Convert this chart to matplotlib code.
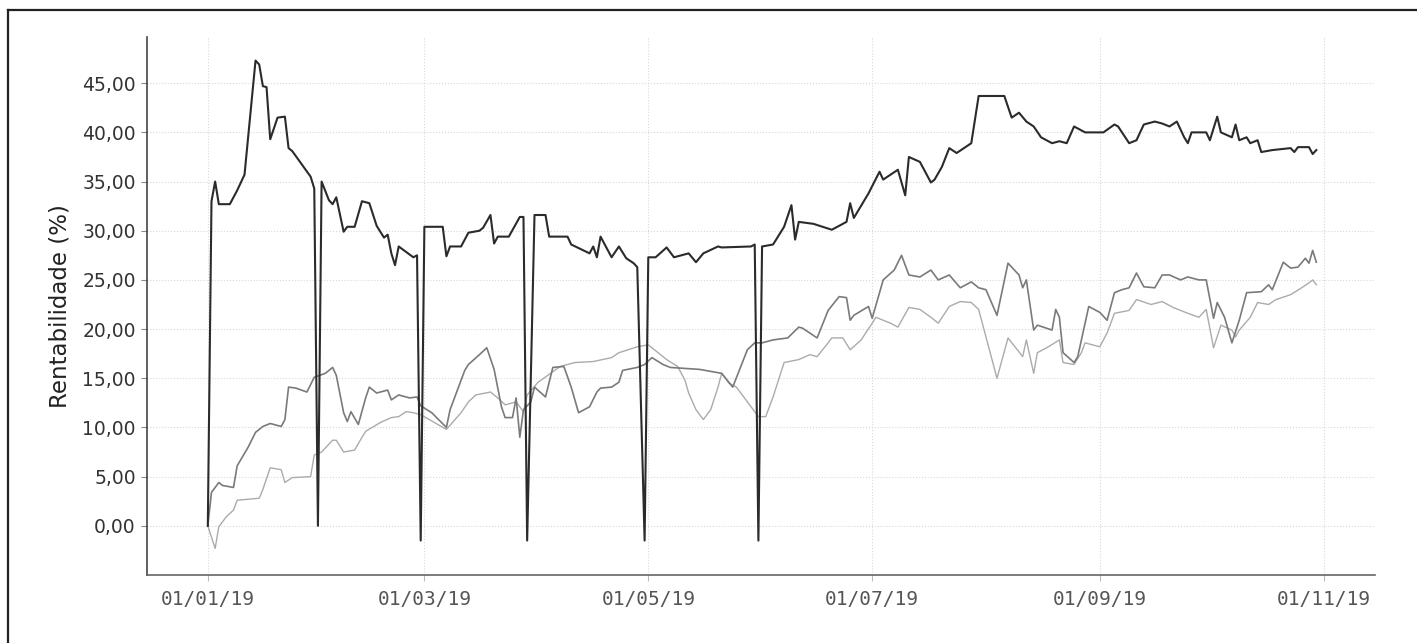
import matplotlib
matplotlib.use('Agg')
import matplotlib.pyplot as plt
import matplotlib.dates as mdates
from matplotlib.lines import Line2D
from matplotlib.ticker import FuncFormatter
import pandas as pd

# ---- data (days since 01/01/2019, rentabilidade %) ----
start = pd.Timestamp('2019-01-01')

a_days = [0, 1, 2, 3, 6, 8, 10, 13, 14, 15, 16, 17, 19, 21, 22, 23, 28, 29, 30, 31,
          33, 34, 35, 37, 38, 40, 42, 44, 46, 48, 49, 50, 51, 52, 56, 57, 58, 59,
          64, 65, 66, 69, 71, 74, 75, 77, 78, 79, 82, 85, 86, 87, 89,
          92, 93, 98, 99, 104, 105, 106, 107, 110, 112, 114, 116, 117, 119, 120,
          122, 125, 127, 131, 133, 135, 139, 140, 148, 149, 150, 151,
          154, 157, 159, 160, 161, 165, 170, 174, 175, 176, 180, 183, 184, 188, 190,
          191, 194, 197, 198, 200, 202, 204, 208, 210, 217, 219, 221, 223, 225, 227,
          230, 232, 234, 236, 239, 244, 247, 248, 251, 253, 255, 258, 260, 262, 264,
          266, 267, 268, 272, 273, 275, 276, 279, 280, 281, 283, 284, 286, 287, 290,
          295, 296, 297, 300, 301, 302]
a_vals = [0.0, 33.0, 35.0, 32.7, 32.7, 34.1, 35.7, 47.3, 46.9, 44.7, 44.6, 39.3, 41.5, 41.6, 38.4, 38.1, 35.5, 34.3, 0.0, 35.0,
          33.1, 32.7, 33.4, 29.9, 30.4, 30.4, 33.0, 32.8, 30.5, 29.3, 29.6, 27.7, 26.5, 28.4, 27.3, 27.5, -1.5, 30.4,
          30.4, 27.4, 28.4, 28.4, 29.8, 30.0, 30.3, 31.6, 28.7, 29.4, 29.4, 31.4, 31.4, -1.5, 31.6,
          31.6, 29.4, 29.4, 28.6, 27.7, 28.4, 27.3, 29.4, 27.3, 28.4, 27.2, 26.7, 26.3, -1.5, 27.3,
          27.3, 28.3, 27.3, 27.7, 26.8, 27.7, 28.4, 28.3, 28.4, 28.6, -1.5, 28.4,
          28.6, 30.4, 32.6, 29.1, 30.9, 30.7, 30.1, 30.9, 32.8, 31.3, 33.8, 36.0, 35.2, 36.2, 33.6,
          37.5, 37.0, 34.9, 35.2, 36.5, 38.4, 37.9, 38.9, 43.7, 43.7, 41.5, 42.0, 41.1, 40.6, 39.5,
          38.9, 39.1, 38.9, 40.6, 40.0, 40.0, 40.8, 40.6, 38.9, 39.2, 40.8, 41.1, 40.9, 40.6, 41.1,
          39.5, 38.9, 40.0, 40.0, 39.2, 41.6, 40.0, 39.5, 40.8, 39.2, 39.5, 38.9, 39.2, 38.0, 38.2,
          38.4, 38.0, 38.5, 38.5, 37.8, 38.2]

b_days = [0, 1, 3, 4, 7, 8, 11, 13, 15, 17, 20, 21, 22, 24, 27, 29, 32, 34, 35, 37,
          38, 39, 41, 43, 44, 46, 49, 50, 52, 55, 57, 58, 61, 65, 66, 70, 71, 74, 76, 78,
          80, 81, 83, 84, 85, 86, 88, 89, 92, 94, 97, 99, 101, 104, 106, 107, 110, 112, 113,
          117, 119, 121, 124, 126, 134, 140, 143, 147, 149, 151, 154, 158, 161, 162, 166,
          169, 172, 174, 175, 176, 180, 181, 184, 187, 189, 191, 194, 197, 199, 202, 205,
          208, 210, 212, 215, 218, 221, 222, 223, 225, 226, 230, 231, 232, 233, 236, 237,
          240, 243, 245, 247, 249, 251, 253, 255, 258, 260, 262, 265, 267, 270, 272, 274,
          275, 277, 279, 281, 283, 287, 289, 290, 293, 295, 297, 299, 300, 301, 302]
b_vals = [0.0, 3.4, 4.4, 4.1, 3.9, 6.1, 8.0, 9.5, 10.1, 10.4, 10.1, 10.8, 14.1, 14.0, 13.6, 15.1, 15.5, 16.1, 15.3, 11.5,
          10.6, 11.6, 10.3, 13.0, 14.1, 13.5, 13.8, 12.8, 13.3, 13.0, 13.1, 12.2, 11.5, 10.0, 11.8, 15.8, 16.4, 17.4, 18.1, 15.9,
          12.1, 11.0, 11.0, 13.0, 9.0, 11.8, 12.6, 14.1, 13.1, 16.1, 16.2, 14.1, 11.5, 12.1, 13.6, 14.0, 14.1, 14.6, 15.8,
          16.1, 16.4, 17.1, 16.4, 16.1, 15.9, 15.5, 14.1, 17.9, 18.6, 18.6, 18.9, 19.1, 20.2, 20.1, 19.1,
          21.9, 23.3, 23.2, 20.9, 21.4, 22.3, 21.1, 25.0, 26.0, 27.5, 25.5, 25.3, 26.0, 25.0, 25.5, 24.2,
          24.8, 24.2, 24.0, 21.4, 26.7, 25.5, 24.2, 25.0, 19.9, 20.4, 19.9, 22.0, 21.2, 17.6, 16.6, 17.2,
          22.3, 21.7, 20.9, 23.7, 24.0, 24.2, 25.7, 24.3, 24.2, 25.5, 25.5, 25.0, 25.3, 25.0, 25.0, 21.1,
          22.7, 21.2, 18.6, 20.9, 23.7, 23.8, 24.5, 24.0, 26.8, 26.2, 26.3, 27.2, 26.7, 28.0, 26.8]

c_days = [0, 2, 3, 5, 7, 8, 14, 15, 17, 20, 21, 23, 28, 29, 31, 34, 35, 37, 40, 42,
          43, 47, 50, 52, 54, 56, 58, 65, 69, 71, 73, 77, 79, 81, 84, 86, 87, 90, 96, 100,
          105, 110, 112, 117, 120, 121, 125, 128, 130, 131, 133, 135, 137, 139, 140, 142, 144,
          148, 150, 152, 154, 157, 161, 164, 166, 169, 170, 173, 175, 178, 181, 182, 186, 188,
          191, 194, 197, 199, 202, 205, 208, 210, 212, 215, 218, 222, 223, 225, 226, 229, 232,
          233, 236, 238, 239, 243, 245, 247, 251, 253, 257, 260, 263, 267, 270, 272, 274, 276,
          279, 280, 281, 284, 286, 289, 291, 295, 298, 300, 301, 302]
c_vals = [0.0, -2.3, -0.1, 0.9, 1.6, 2.6, 2.8, 3.7, 5.9, 5.7, 4.4, 4.9, 5.0, 7.2, 7.5, 8.7, 8.7, 7.5, 7.7, 9.0,
          9.6, 10.5, 11.0, 11.1, 11.6, 11.5, 11.3, 9.8, 11.5, 12.6, 13.3, 13.6, 13.0, 12.3, 12.6, 11.6, 13.3, 14.6, 16.2, 16.6,
          16.7, 17.1, 17.6, 18.2, 18.4, 18.1, 16.9, 16.2, 14.8, 13.5, 11.8, 10.8, 11.8, 14.1, 15.5, 14.5, 14.1,
          12.1, 11.1, 11.1, 13.1, 16.6, 16.9, 17.4, 17.2, 18.6, 19.1, 19.1, 17.9, 18.9, 20.6, 21.2, 20.6, 20.2,
          22.2, 22.0, 21.2, 20.6, 22.3, 22.8, 22.7, 22.0, 19.2, 15.0, 19.1, 17.2, 18.9, 15.5, 17.6, 18.2, 18.9,
          16.6, 16.4, 17.6, 18.6, 18.2, 19.6, 21.6, 21.9, 23.0, 22.5, 22.8, 22.2, 21.6, 21.2, 22.0, 18.1, 20.4,
          19.9, 19.2, 19.9, 21.2, 22.7, 22.5, 23.0, 23.5, 24.2, 24.7, 25.0, 24.5]

x_ticks = ['2019-01-01', '2019-03-01', '2019-05-01', '2019-07-01', '2019-09-01', '2019-11-01']
y_ticks = [0, 5, 10, 15, 20, 25, 30, 35, 40, 45]


def to_dates(days):
    return start + pd.to_timedelta(days, unit='D')


fig = plt.figure(figsize=(14.17, 6.43), dpi=100)
ax = fig.add_axes([0.1037, 0.1058, 0.8667, 0.8367])

ax.plot(to_dates(c_days), c_vals, color='#ababab', linewidth=1.0, zorder=2)
ax.plot(to_dates(b_days), b_vals, color='#7a7a7a', linewidth=1.2, zorder=3)
ax.plot(to_dates(a_days), a_vals, color='#2b2b2b', linewidth=1.5, zorder=4)

ax.set_xlim(pd.Timestamp('2018-12-15 10:00'), pd.Timestamp('2019-11-15'))
ax.set_ylim(-5, 49.7)

ax.set_xticks(pd.to_datetime(x_ticks))
ax.xaxis.set_major_formatter(mdates.DateFormatter('%d/%m/%y'))
ax.set_yticks(y_ticks)
ax.yaxis.set_major_formatter(FuncFormatter(lambda v, p: f'{v:.2f}'.replace('.', ',')))

ax.grid(True, linestyle=':', color='#d8d8d8', linewidth=0.8)
ax.set_axisbelow(True)

for side in ['top', 'right']:
    ax.spines[side].set_visible(False)
ax.spines['left'].set_color('#444444')
ax.spines['left'].set_linewidth(1.2)
ax.spines['bottom'].set_color('#666666')
ax.spines['bottom'].set_linewidth(1.2)

ax.tick_params(axis='y', length=4, color='#888888', pad=4, labelsize=13.5, labelcolor='#333333')
ax.tick_params(axis='x', length=4, color='#bbbbbb', pad=7, labelsize=14, labelcolor='#555555')
for lab in ax.get_xticklabels():
    lab.set_family('DejaVu Sans Mono')

ax.set_ylabel('Rentabilidade (%)', fontsize=16.5, color='#222222', labelpad=8)

# outer frame of the scanned chart
fig.add_artist(Line2D([8 / 1417, 1.0], [1 - 10 / 643, 1 - 10 / 643],
                      transform=fig.transFigure, color='#222222', linewidth=1.6))
fig.add_artist(Line2D([8 / 1417, 8 / 1417], [0.0, 1 - 10 / 643],
                      transform=fig.transFigure, color='#222222', linewidth=1.6))

plt.savefig('out.png', dpi=100)
plt.close()
